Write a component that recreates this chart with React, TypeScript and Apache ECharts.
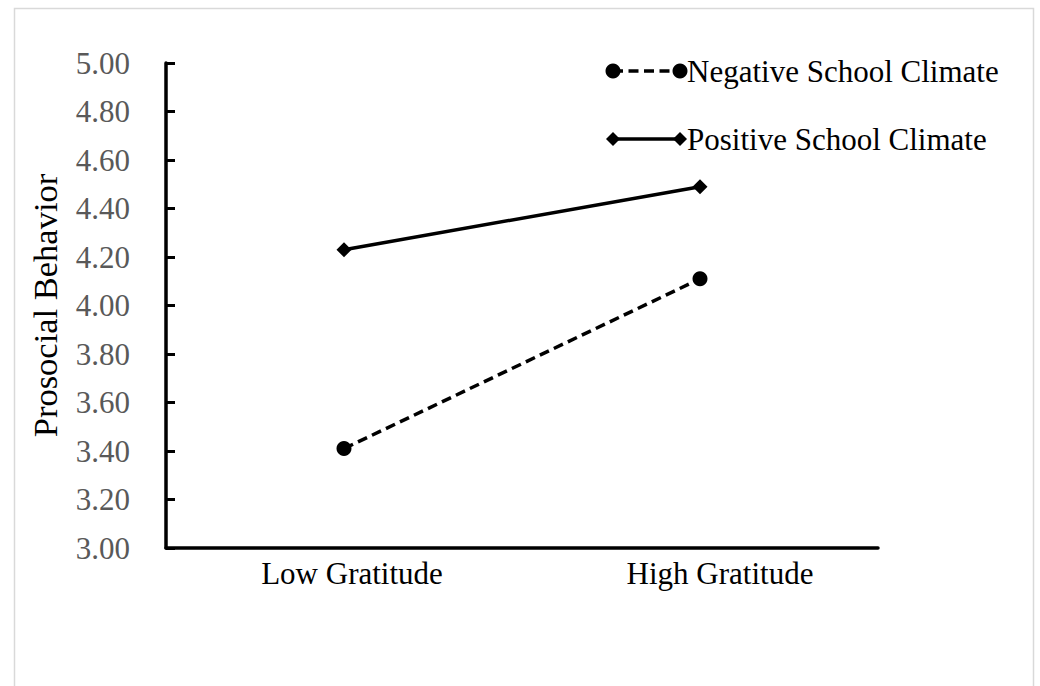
import React, { useEffect, useRef } from "react";
import * as echarts from "echarts";

const categories = ["Low Gratitude", "High Gratitude"];
const negativeClimate = [3.41, 4.11];
const positiveClimate = [4.23, 4.49];
const seriesNames = ["Negative School Climate", "Positive School Climate"];
const yAxisTitle = "Prosocial Behavior";
const yMin = 3.0;
const yMax = 5.0;
const yStep = 0.2;

const FONT = "'Liberation Serif', 'Times New Roman', serif";

export default function App() {
  const ref = useRef<HTMLDivElement>(null);
  useEffect(() => {
    if (!ref.current) return;
    const chart = echarts.init(ref.current, null, { renderer: "svg" });
    const lx1 = 613;
    const lx2 = 680;
    const ly1 = 71;
    const ly2 = 139;
    const d = 7;
    const labelStyle = { fontFamily: FONT, fontSize: 31, color: "#000" };
    chart.setOption({
      animation: false,
      backgroundColor: "#ffffff",
      grid: { left: 166, right: 162, top: 63, bottom: 138 },
      xAxis: {
        type: "category",
        data: categories,
        boundaryGap: true,
        axisLine: { lineStyle: { color: "#000", width: 3.5 } },
        axisTick: { inside: true, length: 8, lineStyle: { color: "#000", width: 3 } },
        axisLabel: {
          fontFamily: FONT,
          fontSize: 31,
          color: "#000",
          margin: 10,
          formatter: (v: string, i: number) => (i === 0 ? `{a|${v}}` : `{b|${v}}`),
          rich: {
            a: { ...labelStyle, padding: [0, 0, 0, 16] },
            b: { ...labelStyle, padding: [0, 0, 0, 40] },
          },
        },
        splitLine: { show: false },
      },
      yAxis: {
        type: "value",
        min: yMin,
        max: yMax,
        interval: yStep,
        name: yAxisTitle,
        nameLocation: "middle",
        nameGap: 104,
        nameRotate: 90,
        nameTextStyle: { fontFamily: FONT, fontSize: 34.5, color: "#000" },
        axisLine: { show: true, lineStyle: { color: "#000", width: 3.5 } },
        axisTick: { show: true, inside: true, length: 9, lineStyle: { color: "#000", width: 3 } },
        axisLabel: {
          fontFamily: FONT,
          fontSize: 31,
          color: "#595959",
          margin: 36,
          formatter: (v: number) => v.toFixed(2),
        },
        splitLine: { show: false },
      },
      series: [
        {
          name: seriesNames[0],
          type: "line",
          data: negativeClimate,
          symbol: "circle",
          symbolSize: 15,
          itemStyle: { color: "#000" },
          lineStyle: { color: "#000", width: 3.5, type: [10, 5.5] },
        },
        {
          name: seriesNames[1],
          type: "line",
          data: positiveClimate,
          symbol: "diamond",
          symbolSize: 15,
          itemStyle: { color: "#000" },
          lineStyle: { color: "#000", width: 3.5 },
        },
      ],
      graphic: [
        {
          type: "rect",
          shape: { x: 14.5, y: 8.5, width: 1019, height: 720 },
          style: { fill: "none", stroke: "#d9d9d9", lineWidth: 1.5 },
          silent: true,
          z: -1,
        },
        {
          type: "line",
          shape: { x1: lx1, y1: ly1, x2: lx2, y2: ly1 },
          style: { stroke: "#000", lineWidth: 3.5, lineDash: [10, 5.5] },
        },
        { type: "circle", shape: { cx: lx1, cy: ly1, r: 7.5 }, style: { fill: "#000" } },
        { type: "circle", shape: { cx: lx2, cy: ly1, r: 7.5 }, style: { fill: "#000" } },
        {
          type: "text",
          x: 687,
          y: ly1,
          style: {
            text: seriesNames[0],
            fontFamily: FONT,
            fontSize: 31,
            fill: "#000",
            verticalAlign: "middle",
            align: "left",
          },
        },
        {
          type: "line",
          shape: { x1: lx1, y1: ly2, x2: lx2, y2: ly2 },
          style: { stroke: "#000", lineWidth: 3.5 },
        },
        {
          type: "polygon",
          shape: { points: [[lx1 - d, ly2], [lx1, ly2 - d], [lx1 + d, ly2], [lx1, ly2 + d]] },
          style: { fill: "#000" },
        },
        {
          type: "polygon",
          shape: { points: [[lx2 - d, ly2], [lx2, ly2 - d], [lx2 + d, ly2], [lx2, ly2 + d]] },
          style: { fill: "#000" },
        },
        {
          type: "text",
          x: 687,
          y: ly2,
          style: {
            text: seriesNames[1],
            fontFamily: FONT,
            fontSize: 31,
            fill: "#000",
            verticalAlign: "middle",
            align: "left",
          },
        },
      ],
    });
    return () => chart.dispose();
  }, []);
  return (
    <div
      ref={ref}
      style={{ position: "absolute", left: 0, top: 0, width: 1040, height: 686 }}
    />
  );
}
